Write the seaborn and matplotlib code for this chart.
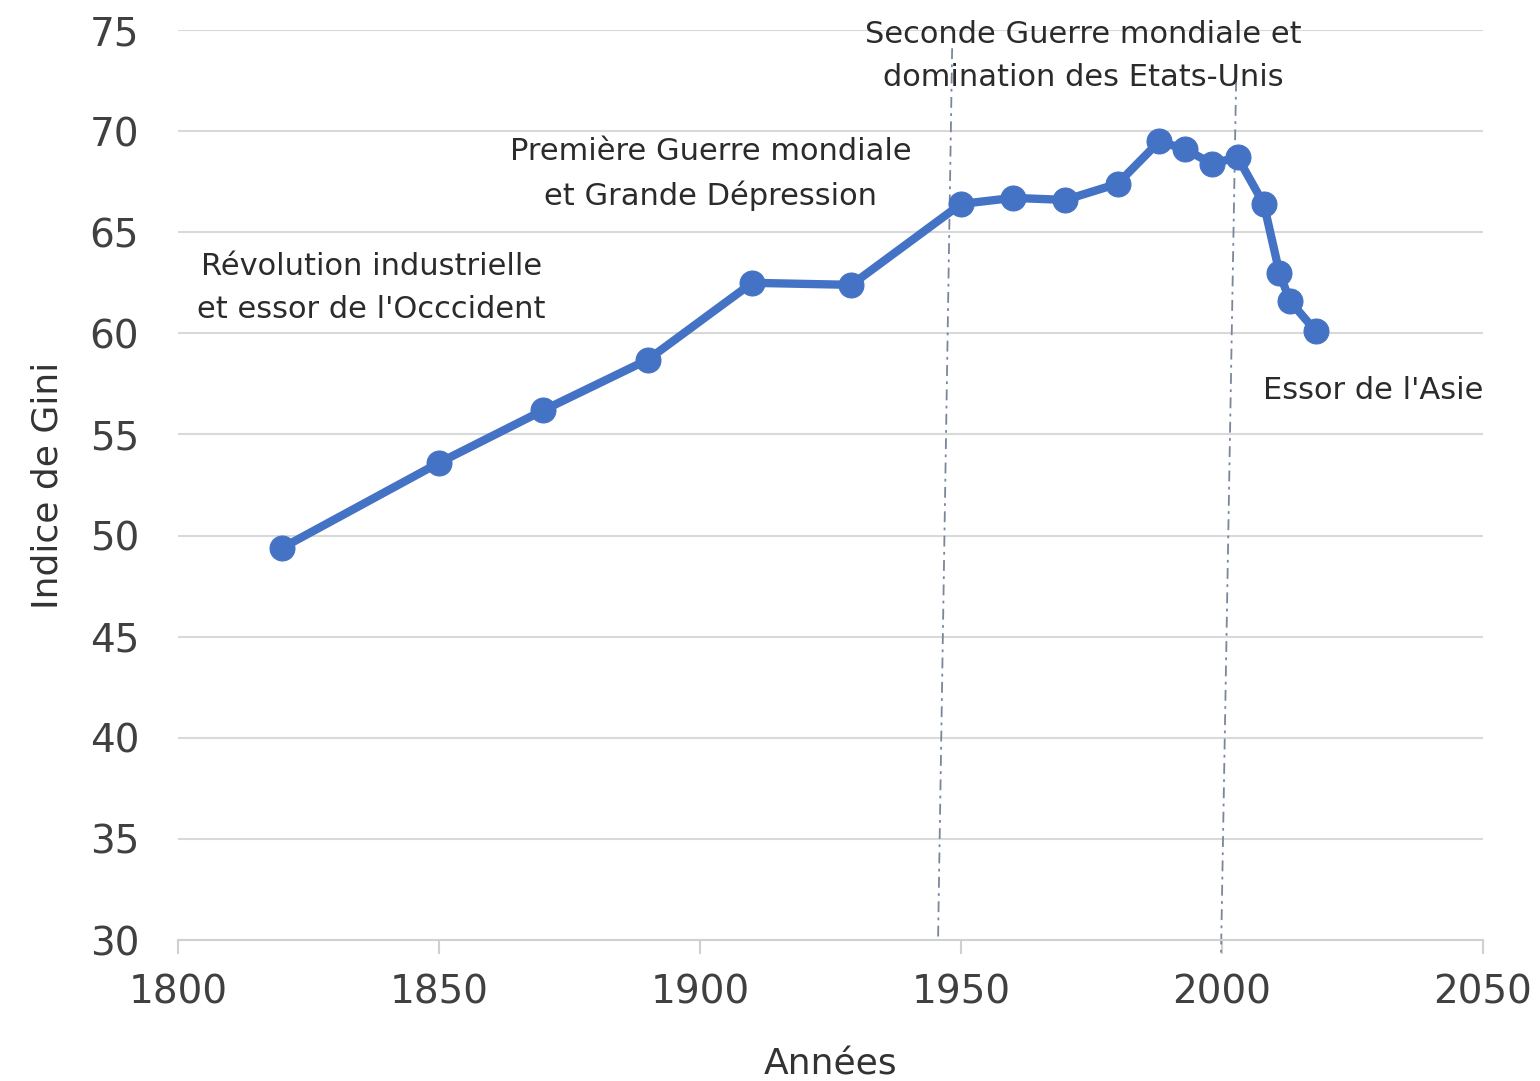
import pandas as pd
import matplotlib
matplotlib.use('Agg')
import matplotlib.pyplot as plt
import seaborn as sns

# données
annees = [1820, 1850, 1870, 1890, 1910, 1929, 1950, 1960, 1970, 1980,
          1988, 1993, 1998, 2003, 2008, 2011, 2013, 2018]
gini = [49.4, 53.6, 56.2, 58.7, 62.5, 62.4, 66.4, 66.7, 66.6, 67.4,
        69.5, 69.1, 68.4, 68.7, 66.4, 63.0, 61.6, 60.1]

# annotations (texte, x, y)
textes = ["Révolution industrielle\net essor de l'Occcident",
          "Première Guerre mondiale\net Grande Dépression",
          "Seconde Guerre mondiale et\ndomination des Etats-Unis",
          "Essor de l'Asie"]
textes_x = [1837, 1902, 1973.4, 2029]
textes_y = [62.25, 67.9, 73.7, 57.2]

# lignes verticales pointillées (légèrement inclinées dans l'original)
lignes_x_haut = [1948.3, 2002.7]
lignes_y_haut = [74.1, 72.5]
lignes_x_bas = [1945.6, 1999.8]
lignes_y_bas = [30.0, 29.2]

df = pd.DataFrame({'Années': annees, 'Indice de Gini': gini})

sns.set_theme(style="white")
plt.rcParams['font.family'] = ['DejaVu Sans']

fig = plt.figure(figsize=(15.4, 10.81), dpi=100)
ax = fig.add_axes([0.1156, 0.1304, 0.8474, 0.8418])

bleu = '#4472C4'
sns.lineplot(data=df, x='Années', y='Indice de Gini', ax=ax, color=bleu,
             linewidth=6, marker='o', markersize=18, markeredgecolor=bleu,
             zorder=3)

for xh, yh, xb, yb in zip(lignes_x_haut, lignes_y_haut, lignes_x_bas, lignes_y_bas):
    ax.plot([xh, xb], [yh, yb], color='#7a869c', linewidth=1.3,
            linestyle=(0, (6, 3, 1.5, 3)), zorder=2, clip_on=False)

for t, x, y in zip(textes, textes_x, textes_y):
    ax.text(x, y, t, ha='center', va='center', fontsize=22,
            color='#2b2b2b', linespacing=1.6, zorder=4)

ax.set_xlim(1800, 2050)
ax.set_ylim(30, 75)
ax.set_xticks(range(1800, 2051, 50))
ax.set_yticks(range(30, 76, 5))
ax.yaxis.grid(True, color='#d9d9d9', linewidth=1.5)
ax.xaxis.grid(False)

for s in ['top', 'right', 'left']:
    ax.spines[s].set_visible(False)
ax.spines['bottom'].set_color('#d0d0d0')
ax.spines['bottom'].set_linewidth(1.5)
ax.tick_params(axis='x', bottom=True, length=10, width=1.5, color='#d0d0d0',
               labelsize=28, labelcolor='#404040', pad=14)
ax.tick_params(axis='y', left=False, labelsize=28, labelcolor='#404040', pad=22)

ax.set_xlabel('Années', fontsize=26, color='#333333', labelpad=26)
ax.set_ylabel('Indice de Gini', fontsize=26, color='#333333', labelpad=18)

fig.savefig('out.png', dpi=100)
